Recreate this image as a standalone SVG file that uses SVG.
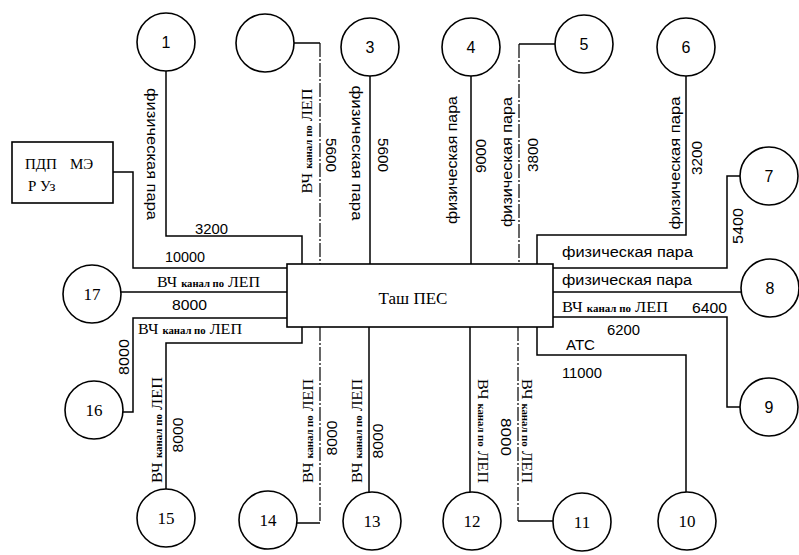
<svg xmlns="http://www.w3.org/2000/svg" width="799" height="555" viewBox="0 0 799 555">
<style>
.c{fill:#fff;stroke:#000;stroke-width:1.6}
.b{fill:#fff;stroke:#000;stroke-width:1.6}
.ln{fill:none;stroke:#000;stroke-width:1.5}
.dd{fill:none;stroke:#000;stroke-width:1.2;stroke-dasharray:14 2 2 2}
.s{font-family:"Liberation Sans",Arial,sans-serif;font-size:14px;fill:#000}
.n{font-family:"Liberation Sans",Arial,sans-serif;font-size:16px;fill:#000;text-anchor:middle}
.nt{font-family:"Liberation Serif","Times New Roman",serif;font-size:17px;fill:#000;text-anchor:middle}
.t{font-family:"Liberation Serif","Times New Roman",serif;font-size:15px;fill:#000}
.sm{font-size:10px;font-weight:bold}
.m{text-anchor:middle}
</style>
<rect width="799" height="555" fill="#fff"/>
<g id="connectors">
<path class="ln" d="M166,71 V236 H302 V264"/>
<path class="ln" d="M113,172 H133 V268 H287"/>
<path class="ln" d="M121,292 H287"/>
<path class="ln" d="M287,318 H133 V412 H123"/>
<path class="ln" d="M302,327 V343 H166 V489"/>
<path class="ln" d="M294,43 H320"/>
<path class="dd" d="M320,43 V264"/>
<path class="ln" d="M370,76 V264"/>
<path class="ln" d="M471,76 V264"/>
<path class="ln" d="M555,44 H519"/>
<path class="dd" d="M519,44 V264"/>
<path class="ln" d="M686,76 V235 H537 V264"/>
<path class="ln" d="M740,176 H727 V268 H553"/>
<path class="ln" d="M553,292 H741"/>
<path class="ln" d="M553,317 H727 V407 H740"/>
<path class="ln" d="M537,327 V355 H686 V492"/>
<path class="dd" d="M518,327 V521"/>
<path class="ln" d="M518,521 H553"/>
<path class="ln" d="M470,327 V492"/>
<path class="ln" d="M369,327 V492"/>
<path class="dd" d="M320,327 V523"/>
<path class="ln" d="M320,523 H297"/>
</g>
<g id="labels">
<text class="s m" transform="translate(152,154) rotate(90)" y="5" textLength="132" lengthAdjust="spacingAndGlyphs">физическая пара</text>
<text class="t m" transform="translate(307,141) rotate(-90)" y="5" textLength="105" lengthAdjust="spacingAndGlyphs">ВЧ <tspan class="sm">канал по</tspan> ЛЕП</text>
<text class="s m" transform="translate(331,155) rotate(90)" y="5" textLength="34" lengthAdjust="spacingAndGlyphs">5600</text>
<text class="s m" transform="translate(357,153) rotate(90)" y="5" textLength="135" lengthAdjust="spacingAndGlyphs">физическая пара</text>
<text class="s m" transform="translate(383,155) rotate(90)" y="5" textLength="34" lengthAdjust="spacingAndGlyphs">5600</text>
<text class="s m" transform="translate(452,160) rotate(-90)" y="5" textLength="128" lengthAdjust="spacingAndGlyphs">физическая пара</text>
<text class="s m" transform="translate(481,156) rotate(-90)" y="5" textLength="34" lengthAdjust="spacingAndGlyphs">9000</text>
<text class="s m" transform="translate(507,162) rotate(-90)" y="5" textLength="130" lengthAdjust="spacingAndGlyphs">физическая пара</text>
<text class="s m" transform="translate(533,155) rotate(-90)" y="5" textLength="34" lengthAdjust="spacingAndGlyphs">3800</text>
<text class="s m" transform="translate(675,163) rotate(-90)" y="5" textLength="133" lengthAdjust="spacingAndGlyphs">физическая пара</text>
<text class="s m" transform="translate(697,158) rotate(-90)" y="5" textLength="34" lengthAdjust="spacingAndGlyphs">3200</text>
<text class="s m" transform="translate(738,226) rotate(-90)" y="5" textLength="36" lengthAdjust="spacingAndGlyphs">5400</text>
<text class="s" x="195" y="234" textLength="33" lengthAdjust="spacingAndGlyphs">3200</text>
<text class="s" x="165" y="262" textLength="40" lengthAdjust="spacingAndGlyphs">10000</text>
<text class="t" x="157" y="287" textLength="103" lengthAdjust="spacingAndGlyphs">ВЧ <tspan class="sm">канал по</tspan> ЛЕП</text>
<text class="s" x="172" y="310" textLength="35" lengthAdjust="spacingAndGlyphs">8000</text>
<text class="t" x="138" y="334" textLength="104" lengthAdjust="spacingAndGlyphs">ВЧ <tspan class="sm">канал по</tspan> ЛЕП</text>
<text class="s m" transform="translate(124,357) rotate(-90)" y="5" textLength="36" lengthAdjust="spacingAndGlyphs">8000</text>
<text class="s" x="562" y="257" textLength="131" lengthAdjust="spacingAndGlyphs">физическая пара</text>
<text class="s" x="562" y="285" textLength="130" lengthAdjust="spacingAndGlyphs">физическая пара</text>
<text class="t" x="562" y="312" textLength="106" lengthAdjust="spacingAndGlyphs">ВЧ <tspan class="sm">канал по</tspan> ЛЕП</text>
<text class="s" x="692" y="313" textLength="35" lengthAdjust="spacingAndGlyphs">6400</text>
<text class="s" x="607" y="335" textLength="33" lengthAdjust="spacingAndGlyphs">6200</text>
<text class="s" x="566" y="350" textLength="29" lengthAdjust="spacingAndGlyphs">АТС</text>
<text class="s" x="562" y="378" textLength="40" lengthAdjust="spacingAndGlyphs">11000</text>
<text class="t m" transform="translate(157,430) rotate(-90)" y="5" textLength="106" lengthAdjust="spacingAndGlyphs">ВЧ <tspan class="sm">канал по</tspan> ЛЕП</text>
<text class="s m" transform="translate(178,435) rotate(-90)" y="5" textLength="35" lengthAdjust="spacingAndGlyphs">8000</text>
<text class="t m" transform="translate(308,431) rotate(-90)" y="5" textLength="104" lengthAdjust="spacingAndGlyphs">ВЧ <tspan class="sm">канал по</tspan> ЛЕП</text>
<text class="s m" transform="translate(332,438) rotate(-90)" y="5" textLength="35" lengthAdjust="spacingAndGlyphs">8000</text>
<text class="t m" transform="translate(357,431) rotate(-90)" y="5" textLength="104" lengthAdjust="spacingAndGlyphs">ВЧ <tspan class="sm">канал по</tspan> ЛЕП</text>
<text class="s m" transform="translate(378,441) rotate(-90)" y="5" textLength="35" lengthAdjust="spacingAndGlyphs">8000</text>
<text class="t m" transform="translate(483,431) rotate(90)" y="5" textLength="104" lengthAdjust="spacingAndGlyphs">ВЧ <tspan class="sm">канал по</tspan> ЛЕП</text>
<text class="s m" transform="translate(506,437) rotate(90)" y="5" textLength="38" lengthAdjust="spacingAndGlyphs">8000</text>
<text class="t m" transform="translate(527,431) rotate(90)" y="5" textLength="104" lengthAdjust="spacingAndGlyphs">ВЧ <tspan class="sm">канал по</tspan> ЛЕП</text>
</g>
<g id="node-center"><rect class="b" x="287" y="264" width="266" height="63"/><text class="nt" x="413" y="304">Таш ПЕС</text></g>
<g id="node-pdp"><rect class="b" x="12" y="142" width="101" height="61"/><text class="t" font-size="19"><tspan x="25" y="169">ПДП</tspan><tspan x="70" y="169">МЭ</tspan><tspan x="28" y="191">Р Уз</tspan></text></g>
<g id="node-1"><circle class="c" cx="166" cy="42" r="29"/><text class="n" x="166" y="48">1</text></g>
<g id="node-2"><circle class="c" cx="265" cy="43" r="29"/></g>
<g id="node-3"><circle class="c" cx="370" cy="47" r="29"/><text class="n" x="370" y="53">3</text></g>
<g id="node-4"><circle class="c" cx="471" cy="47" r="29"/><text class="n" x="471" y="53">4</text></g>
<g id="node-5"><circle class="c" cx="584" cy="44" r="29"/><text class="n" x="584" y="50">5</text></g>
<g id="node-6"><circle class="c" cx="686" cy="47" r="29"/><text class="n" x="686" y="53">6</text></g>
<g id="node-7"><circle class="c" cx="769" cy="176" r="29"/><text class="n" x="769" y="182">7</text></g>
<g id="node-8"><circle class="c" cx="770" cy="288" r="29"/><text class="n" x="770" y="294">8</text></g>
<g id="node-9"><circle class="c" cx="769" cy="407" r="29"/><text class="n" x="769" y="413">9</text></g>
<g id="node-10"><circle class="c" cx="687" cy="521" r="29"/><text class="nt" x="687" y="527">10</text></g>
<g id="node-11"><circle class="c" cx="582" cy="522" r="29"/><text class="nt" x="582" y="528">11</text></g>
<g id="node-12"><circle class="c" cx="472" cy="521" r="29"/><text class="nt" x="472" y="527">12</text></g>
<g id="node-13"><circle class="c" cx="372" cy="521" r="29"/><text class="nt" x="372" y="527">13</text></g>
<g id="node-14"><circle class="c" cx="268" cy="520" r="29"/><text class="nt" x="268" y="526">14</text></g>
<g id="node-15"><circle class="c" cx="166" cy="518" r="29"/><text class="nt" x="166" y="524">15</text></g>
<g id="node-16"><circle class="c" cx="94" cy="410" r="29"/><text class="nt" x="94" y="416">16</text></g>
<g id="node-17"><circle class="c" cx="92" cy="294" r="29"/><text class="nt" x="92" y="300">17</text></g>
</svg>
